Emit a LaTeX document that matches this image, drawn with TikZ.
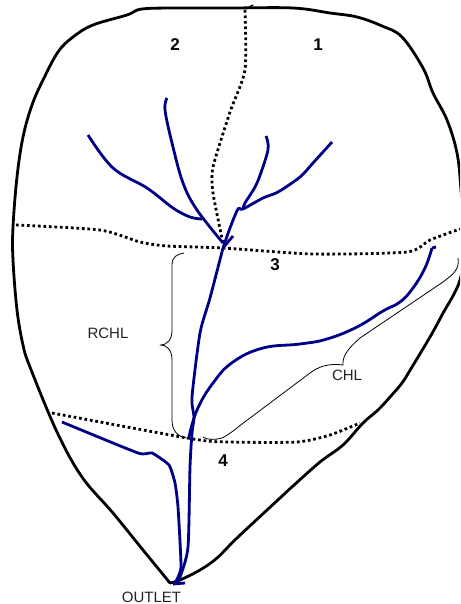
\documentclass[tikz,border=0pt]{standalone}
\usepackage{fontspec}
\setmainfont{Liberation Sans}
\definecolor{riverblue}{RGB}{0,0,135}
\definecolor{labelgrey}{RGB}{35,35,35}
\tikzset{
  outlineline/.style={black,line width=2.8pt,line join=round,line cap=round},
  divide/.style={black,line width=2.8pt,dash pattern=on 2.7pt off 2.8pt},
  river/.style={riverblue,line width=2.8pt,line join=round,line cap=butt},
  bracket/.style={black,line width=0.8pt,line join=round},
  zonelabel/.style={inner sep=0pt,font=\fontsize{17}{17}\selectfont\bfseries,text=black},
  textlabel/.style={inner sep=0pt,font=\fontsize{15}{15}\selectfont,text=labelgrey}
}
\begin{document}
\begin{tikzpicture}[x=1pt,y=-1pt]
\useasboundingbox (0,0) rectangle (460,604);
\clip (0,0) rectangle (460,604);
% catchment outline
\draw[outlineline] plot[smooth,tension=0.6] coordinates {(170,583)(143,550)(113,513)(82,477)(57,432)(30,367)(23,345)(17,310)(13,260)(13,227)(17,177)(23,137)(32,105)(43,80)(58,52)(73,37)(93,25)(127,15)(142,9)(180,8)(230,8)(293,8)(330,13)(357,17)(382,26)(402,37)(423,68)(433,93)(447,120)(457,153)(461,190)(464,240)(460,280)(442,315)(430,337)(412,367)(402,383)(390,397)(378,410)(363,423)(343,445)(320,462)(293,486)(280,498)(237,538)(217,558)(200,570)(180,580)(170,583)};
\draw[black,line width=1.5pt] (248,8) -- (253,5);
% sub-basin divides
\draw[divide] plot[smooth,tension=0.4] coordinates {(245,10)(245,70)(230,112)(213,167)(213,193)(223,243)};
\draw[divide] plot[smooth,tension=0.4] coordinates {(16,225)(100,230)(140,242)(167,246)(223,248)(313,254)(407,252)(430,240)(460,229)};
\draw[divide] plot[smooth,tension=0.4] coordinates {(52,413)(193,439)(230,442)(297,442)(330,435)(360,423)};
% streams
\draw[river] plot[smooth,tension=0.4] coordinates {(175,583)(180,577)(188,547)(190,467)(192,433)(194,417)(192,397)(200,333)(210,298)(223,248)};
\draw[river] (223,248) -- (233,236);
\draw[river] plot[smooth,tension=0.5] coordinates {(223,248)(230,228)(238,209)(243,209)(263,198)(278,192)(300,177)(313,163)(332,142)};
\draw[river] plot[smooth,tension=0.5] coordinates {(243,209)(245,203)(257,183)(268,150)(266,136)};
\draw[river] plot[smooth,tension=0.6] coordinates {(167,98)(165,110)(172,143)(183,183)(197,210)(223,243)};
\draw[river] plot[smooth,tension=0.6] coordinates {(88,135)(113,168)(147,188)(173,208)(190,217)(202,219)};
\draw[river] plot[smooth,tension=0.7] coordinates {(189,437)(197,410)(213,383)(233,362)(263,348)(300,344)(327,339)(357,327)(383,311)(400,302)(413,288)(425,268)(432,248)};
\draw[river] (432,248) -- (436,247);
\draw[river] plot[smooth,tension=0.3] coordinates {(62,422)(138,453)(152,453)(169,465)(175,483)(178,507)(181,567)(175,583)};
\draw[river] (173,584) -- (185,583);
% braces
\draw[bracket] (184,253) .. controls (177,254) and (172,257) .. (172,265) -- (172,330) .. controls (172,339) and (168,345) .. (160,345) .. controls (168,345) and (172,351) .. (172,360) -- (172,420) .. controls (172,431) and (178,437) .. (187,438);
\draw[bracket] (203,437) .. controls (207,440) and (215,440) .. (222,438) .. controls (232,433) and (240,425) .. (250,418) -- (310,373) .. controls (318,367) and (328,363) .. (343,365) .. controls (342,355) and (350,347) .. (360,338) -- (443,282) .. controls (452,275) and (460,270) .. (458,258);
% labels
\node[zonelabel] (zone2) at (175,45) {2};
\node[zonelabel] (zone1) at (318,45) {1};
\node[zonelabel] (zone3) at (275,265) {3};
\node[zonelabel] (zone4) at (223,461) {4};
\node[textlabel] (rchl) at (108,333) {RCHL};
\node[textlabel] (chl) at (347,375.5) {CHL};
\node[textlabel] (outlet) at (151.5,597) {OUTLET};
\end{tikzpicture}
\end{document}
